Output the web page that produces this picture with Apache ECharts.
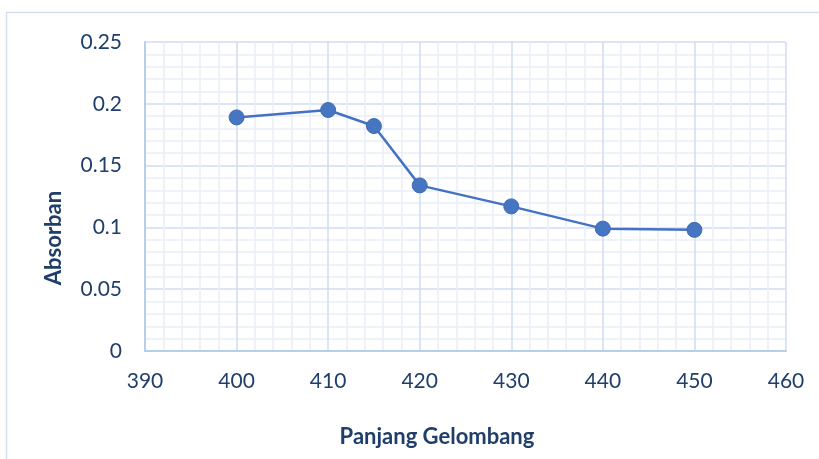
<!DOCTYPE html>
<html>
<head>
<meta charset="utf-8">
<script src="https://cdn.jsdelivr.net/npm/echarts@6/dist/echarts.min.js"></script>
<style>
  html, body { margin: 0; padding: 0; background: #ffffff; }
  #chart { width: 819px; height: 459px; }
</style>
</head>
<body>
<div id="chart"></div>
<script>
// Wavelength (nm) against measured absorbance
const wavelengths = [400, 410, 415, 420, 430, 440, 450];
const absorbance = [0.189, 0.195, 0.182, 0.134, 0.117, 0.099, 0.098];
const xTitle = 'Panjang Gelombang';
const yTitle = 'Absorban';

const points = wavelengths.map((w, i) => [w, absorbance[i]]);

const labelColor = '#1F3E6A';
const font = 'Lato, "Open Sans", sans-serif';

const chart = echarts.init(document.getElementById('chart'));
chart.setOption({
  animation: false,
  backgroundColor: '#ffffff',
  grid: { left: 145, right: 33, top: 42, bottom: 108 },
  xAxis: {
    type: 'value', min: 390, max: 460, interval: 10,
    axisLine: { show: true, lineStyle: { color: '#B8CFEC', width: 2 } },
    axisTick: { show: false },
    axisLabel: { color: labelColor, fontSize: 21, fontFamily: font, margin: 20 },
    splitLine: { show: true, lineStyle: { color: '#CFDDF1', width: 1.5 } },
    minorTick: { show: false, splitNumber: 5 },
    minorSplitLine: { show: true, lineStyle: { color: '#E9EFF8', width: 1.5 } }
  },
  yAxis: {
    type: 'value', min: 0, max: 0.25, interval: 0.05,
    axisLine: { show: true, lineStyle: { color: '#B8CFEC', width: 2 } },
    axisTick: { show: false },
    axisLabel: { color: labelColor, fontSize: 21, fontFamily: font, margin: 23 },
    splitLine: { show: true, lineStyle: { color: '#CFDDF1', width: 1.5 } },
    minorTick: { show: false, splitNumber: 5 },
    minorSplitLine: { show: true, lineStyle: { color: '#E9EFF8', width: 1.5 } }
  },
  graphic: [
    {
      type: 'rect', silent: true, z: -1,
      shape: { x: 6.5, y: 12.5, width: 900, height: 600 },
      style: { fill: 'none', stroke: '#D2E0F2', lineWidth: 1.5 }
    },
    {
      type: 'text', x: 437, y: 437,
      style: { text: xTitle, fill: labelColor, font: 'bold 22px ' + font,
               textAlign: 'center', textVerticalAlign: 'middle' }
    },
    {
      type: 'text', rotation: Math.PI / 2, x: 54, y: 238,
      style: { text: yTitle, fill: labelColor, font: 'bold 22px ' + font,
               textAlign: 'center', textVerticalAlign: 'middle' }
    }
  ],
  series: [{
    type: 'line',
    data: points,
    symbol: 'circle',
    symbolSize: 15,
    lineStyle: { color: '#4472C4', width: 2.5 },
    itemStyle: { color: '#4675C2', borderColor: '#3F6BB5', borderWidth: 1 }
  }]
});
</script>
</body>
</html>
